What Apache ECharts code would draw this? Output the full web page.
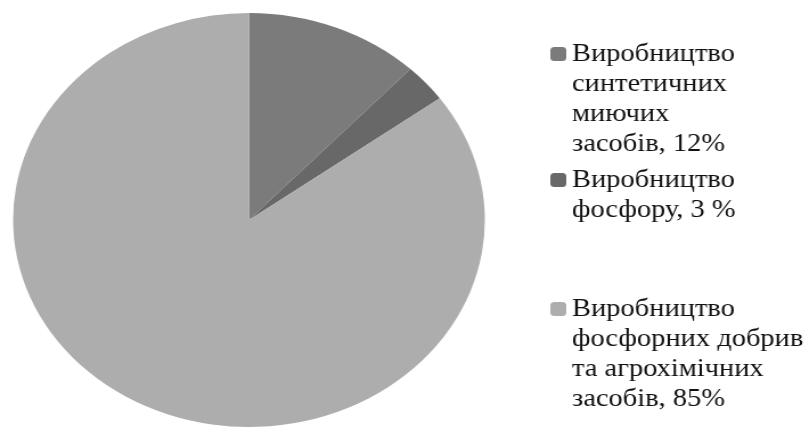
<!DOCTYPE html>
<html>
<head>
<meta charset="utf-8">
<script src="https://cdn.jsdelivr.net/npm/echarts@6/dist/echarts.min.js"></script>
<style>
  html, body { margin: 0; padding: 0; background: #fff; overflow: hidden; }
  #wrap { width: 809px; height: 428px; overflow: hidden; }
  /* the source picture is stretched horizontally, so the chart is too */
  #chart { width: 710px; height: 428px; transform: scaleX(1.1394); transform-origin: 0 0; }
</style>
</head>
<body>
<div id="wrap"><div id="chart"></div></div>
<script>
  var categories = [
    'Виробництво\nсинтетичних\nмиючих\nзасобів, 12%',
    'Виробництво\nфосфору, 3 %',
    'Виробництво\nфосфорних добрив\nта агрохімічних\nзасобів, 85%'
  ];
  var values = [12, 3, 85];
  var colorList = ['#7b7b7b', '#686868', '#adadad'];

  var lineH = 30;
  var legendTops = [39, 165, 294]; // top of first text line

  var chart = echarts.init(document.getElementById('chart'));

  // legend icons sit at the middle of the text block, so blank lines are
  // put in front to keep the icon next to the first line
  var legends = categories.map(function (name, i) {
    var extra = name.split('\n').length - 1;
    return {
      data: [name],
      orient: 'vertical',
      left: 483,
      top: legendTops[i] - extra * lineH,
      padding: 0,
      itemWidth: 14,
      itemHeight: 14,
      selectedMode: false,
      formatter: function (n) {
        return new Array(extra + 1).join('\n') + n;
      },
      textStyle: {
        fontFamily: "'Liberation Serif', 'Times New Roman', serif",
        fontSize: 25,
        lineHeight: lineH,
        color: '#111'
      }
    };
  });

  chart.setOption({
    animation: false,
    color: colorList,
    legend: legends,
    series: [{
      type: 'pie',
      center: [218.5, 220],
      radius: 207,
      startAngle: 90,
      clockwise: true,
      silent: true,
      label: { show: false },
      labelLine: { show: false },
      itemStyle: { borderWidth: 0 },
      emphasis: { disabled: true },
      data: values.map(function (v, i) {
        return { name: categories[i], value: v };
      })
    }]
  });
</script>
</body>
</html>
